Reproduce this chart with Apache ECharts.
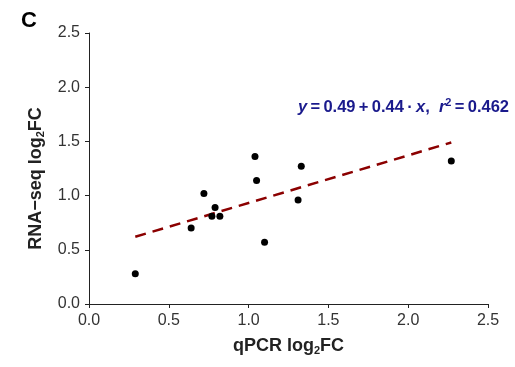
<!DOCTYPE html>
<html><head><meta charset="utf-8">
<script src="https://cdn.jsdelivr.net/npm/echarts@6/dist/echarts.min.js"></script>
<style>html,body{margin:0;padding:0;background:#fff}#c{width:515px;height:367px}</style>
</head><body><div id="c"></div>
<script>
const qpcr   = [0.29, 0.64, 0.72, 0.79, 0.77, 0.82, 1.04, 1.05, 1.10, 1.31, 1.33, 2.27];
const rnaseq = [0.28, 0.70, 1.02, 0.89, 0.81, 0.81, 1.36, 1.14, 0.57, 0.96, 1.27, 1.32];
const fitX = [0.29, 2.27];
const fitY = [0.62, 1.49];
const ticks = [0.0, 0.5, 1.0, 1.5, 2.0, 2.5];

const chart = echarts.init(document.getElementById('c'), null, {renderer: 'canvas'});
const FONT = '"Liberation Sans", Arial, sans-serif';
const axisCommon = {
  min: ticks[0], max: ticks[ticks.length - 1], interval: 0.5,
  axisLine: {show: true, lineStyle: {color: '#222', width: 1}},
  axisTick: {show: true, length: 4, lineStyle: {color: '#222'}},
  splitLine: {show: false},
  axisLabel: {fontFamily: FONT, fontSize: 16, color: '#333', formatter: v => v.toFixed(1)},
  nameLocation: 'middle'
};
const rich = {
  b: {fontFamily: FONT, fontSize: 18, fontWeight: 'bold', color: '#222', lineHeight: 20},
  s: {fontFamily: FONT, fontSize: 11, fontWeight: 'bold', color: '#222', lineHeight: 11, padding: [10, 0, 0, 0]}
};
const T = '\u2009';
chart.setOption({
  animation: false,
  grid: {left: 89, right: 27, top: 33, bottom: 63},
  xAxis: Object.assign({}, axisCommon, {
    type: 'value',
    axisLabel: Object.assign({}, axisCommon.axisLabel, {margin: 9}),
    name: '{b|qPCR log}{s|2}{b|FC}', nameGap: 32,
    nameTextStyle: {rich: rich}
  }),
  yAxis: Object.assign({}, axisCommon, {
    type: 'value',
    axisLabel: Object.assign({}, axisCommon.axisLabel, {margin: 9}),
    name: '{b|RNA\u2212seq log}{s|2}{b|FC}', nameGap: 40,
    nameTextStyle: {rich: rich, padding: [0, 20, 0, 0]}
  }),
  series: [
    {
      type: 'line', data: fitX.map((x, i) => [x, fitY[i]]),
      symbol: 'none', lineStyle: {color: '#8B0000', width: 2.5, type: [11, 7]}, z: 2
    },
    {
      type: 'scatter', data: qpcr.map((x, i) => [x, rnaseq[i]]),
      symbol: 'circle', symbolSize: 7, itemStyle: {color: '#000', opacity: 1}, z: 3
    }
  ],
  graphic: [
    {type: 'text', left: 21, top: 10, style: {text: 'C', font: 'bold 22px ' + FONT, fill: '#000'}},
    {type: 'text', left: 298, top: 97, style: {
      text: '{i|y}{n|' + T + '=' + T + '0.49' + T + '+' + T + '0.44' + T + '\u00b7' + T + '}{i|x}{n|,  }{i|r}{sup|2}{n|' + T + '=' + T + '0.462}',
      rich: {
        i: {fontFamily: FONT, fontSize: 16.5, fontStyle: 'italic', fontWeight: 'bold', fill: '#1a1a8c', lineHeight: 22},
        n: {fontFamily: FONT, fontSize: 16.5, fontWeight: 'bold', fill: '#1a1a8c', lineHeight: 22},
        sup: {fontFamily: FONT, fontSize: 11, fontWeight: 'bold', fill: '#1a1a8c', lineHeight: 11, padding: [0, 0, 10, 0]}
      }
    }}
  ]
});
</script></body></html>
